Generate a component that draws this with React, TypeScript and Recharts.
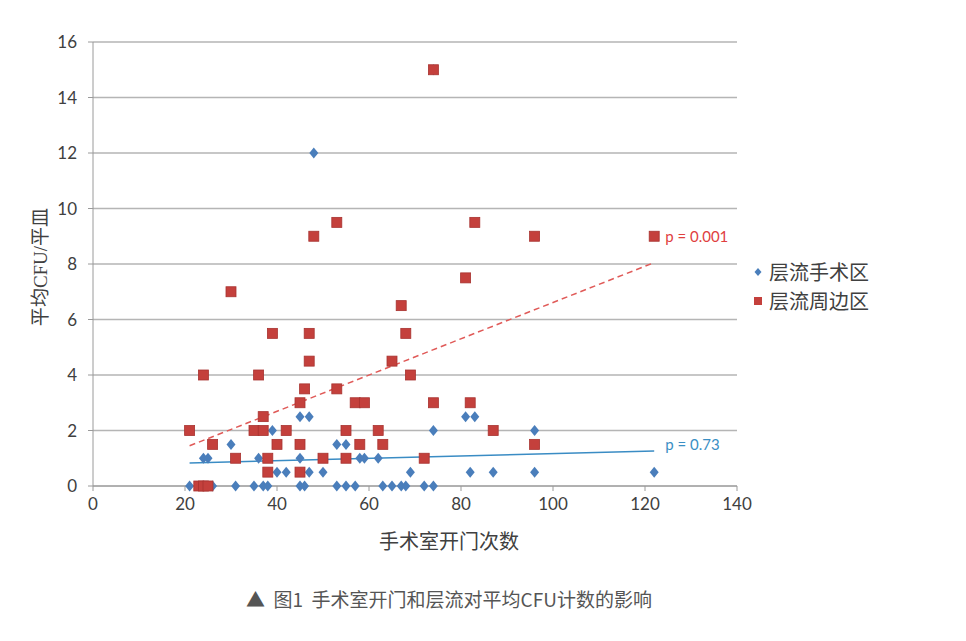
import React from 'react';
import {
  ScatterChart,
  Scatter,
  XAxis,
  YAxis,
  CartesianGrid,
  ReferenceLine,
  ReferenceDot,
  Label,
} from 'recharts';

// ---- data ----
const seriesNames = ['层流手术区', '层流周边区'];

// 层流手术区 (blue diamonds)
const surgicalX = [
  21, 26, 31, 35, 37, 38, 45, 46, 53, 55, 57, 63, 65, 67, 68, 72, 74,
  40, 42, 47, 50, 69, 82, 87, 96, 122,
  24, 25, 36, 45, 58, 59, 62,
  30, 53, 55,
  39, 74, 96,
  45, 47, 81, 83,
  48,
  74,
];
const surgicalY = [
  0, 0, 0, 0, 0, 0, 0, 0, 0, 0, 0, 0, 0, 0, 0, 0, 0,
  0.5, 0.5, 0.5, 0.5, 0.5, 0.5, 0.5, 0.5, 0.5,
  1, 1, 1, 1, 1, 1, 1,
  1.5, 1.5, 1.5,
  2, 2, 2,
  2.5, 2.5, 2.5, 2.5,
  12,
  15,
];

// 层流周边区 (red squares)
const peripheralX = [
  23, 24, 25,
  38, 45,
  31, 38, 50, 55, 72,
  26, 40, 45, 58, 63, 96,
  21, 35, 37, 42, 55, 62, 87,
  37,
  45, 57, 59, 74, 82,
  46, 53,
  24, 36, 69,
  47, 65,
  39, 47, 68,
  67,
  30,
  81,
  48, 96, 122,
  53, 83,
  74,
];
const peripheralY = [
  0, 0, 0,
  0.5, 0.5,
  1, 1, 1, 1, 1,
  1.5, 1.5, 1.5, 1.5, 1.5, 1.5,
  2, 2, 2, 2, 2, 2, 2,
  2.5,
  3, 3, 3, 3, 3,
  3.5, 3.5,
  4, 4, 4,
  4.5, 4.5,
  5.5, 5.5, 5.5,
  6.5,
  7,
  7.5,
  9, 9, 9,
  9.5, 9.5,
  15,
];

// trend lines (start / end)
const trendX = [21, 122];
const surgicalTrendY = [0.83, 1.26];
const peripheralTrendY = [1.45, 8.05];
const pLabels = ['p = 0.73', 'p = 0.001'];

const xTicks = [0, 20, 40, 60, 80, 100, 120, 140];
const yTicks = [0, 2, 4, 6, 8, 10, 12, 14, 16];

const xTitle = '手术室开门次数';
const yTitle = '平均CFU/平皿';
const caption = '▲  图1  手术室开门和层流对平均CFU计数的影响';

const surgicalData = surgicalX.map((x, i) => ({ x, y: surgicalY[i] }));
const peripheralData = peripheralX.map((x, i) => ({ x, y: peripheralY[i] }));

// ---- styles ----
const BLUE = '#4a7ebb';
const RED = '#c4403c';
const TICK_FONT = 'Lato, "Open Sans", sans-serif';
const CJK_FONT = '"Noto Sans CJK SC", sans-serif';

const Diamond = (props: any) => {
  const { cx, cy } = props;
  if (cx == null || cy == null) return null;
  return (
    <path
      d={`M${cx},${cy - 5.5}L${cx + 4.5},${cy}L${cx},${cy + 5.5}L${cx - 4.5},${cy}Z`}
      fill={BLUE}
    />
  );
};

const Square = (props: any) => {
  const { cx, cy } = props;
  if (cx == null || cy == null) return null;
  return (
    <rect x={cx - 5} y={cy - 5} width={10} height={10} fill={RED} stroke="#a83330" strokeWidth={0.8} />
  );
};

const LegendBox = () => (
  <div
    style={{
      position: 'absolute',
      left: 745,
      top: 249,
      fontFamily: CJK_FONT,
      fontSize: 20,
      color: '#404040',
      lineHeight: '29px',
    }}
  >
    <div style={{ display: 'flex', alignItems: 'center' }}>
      <svg width={10} height={10} style={{ marginRight: 6 }}>
        <path d="M5,1L8.5,5L5,9L1.5,5Z" fill={BLUE} />
      </svg>
      <span>{seriesNames[0]}</span>
    </div>
    <div style={{ display: 'flex', alignItems: 'center' }}>
      <svg width={10} height={10} style={{ marginRight: 6 }}>
        <rect x={1} y={1} width={8} height={8} fill={RED} />
      </svg>
      <span>{seriesNames[1]}</span>
    </div>
  </div>
);

const YTitle = (props: any) => {
  const vb = props.viewBox || { x: 25, y: 34, width: 60, height: 444 };
  const x = vb.x + 7;
  const y = vb.y + vb.height / 2 + 3;
  return (
    <text
      x={x}
      y={y}
      transform={`rotate(-90, ${x}, ${y})`}
      textAnchor="middle"
      dominantBaseline="central"
      fontFamily={'"Liberation Serif", "Noto Sans CJK SC", serif'}
      fontSize={19}
      fill="#404040"
    >
      {yTitle}
    </text>
  );
};

const XTitle = (props: any) => {
  const vb = props.viewBox || { x: 85, y: 478, width: 644, height: 30 };
  return (
    <g>
      <text
        x={vb.x + 356}
        y={vb.y + 54}
        textAnchor="middle"
        dominantBaseline="central"
        fontFamily={CJK_FONT}
        fontSize={20}
        fill="#404040"
      >
        {xTitle}
      </text>
      <text
        x={vb.x + 356}
        y={vb.y + 112}
        textAnchor="middle"
        dominantBaseline="central"
        fontFamily={CJK_FONT}
        fontSize={19}
        fill="#555555"
        style={{ whiteSpace: 'pre' }}
      >
        {caption}
      </text>
    </g>
  );
};

export default function App() {
  return (
    <div style={{ position: 'relative', width: 950, height: 625, background: '#fff' }}>
      <ScatterChart width={950} height={625} margin={{ top: 34, right: 221, bottom: 117, left: 25 }}>
        <CartesianGrid horizontal vertical={false} stroke="#b5b5b5" strokeWidth={1.5} />
        <XAxis
          type="number"
          dataKey="x"
          domain={[0, 140]}
          ticks={xTicks}
          height={30}
          stroke="#9a9a9a"
          tickSize={5}
          tickMargin={7}
          tick={{ fill: '#404040', fontSize: 17, fontFamily: TICK_FONT }}
          allowDataOverflow
        >
          <Label content={<XTitle />} />
        </XAxis>
        <YAxis
          type="number"
          dataKey="y"
          domain={[0, 16]}
          ticks={yTicks}
          width={60}
          stroke="#9a9a9a"
          tickSize={5}
          tickMargin={11}
          tick={{ fill: '#404040', fontSize: 17, fontFamily: TICK_FONT }}
        >
          <Label content={<YTitle />} />
        </YAxis>
        <Scatter
          name={seriesNames[0]}
          data={surgicalData}
          fill={BLUE}
          shape={<Diamond />}
          isAnimationActive={false}
        />
        <Scatter
          name={seriesNames[1]}
          data={peripheralData}
          fill={RED}
          shape={<Square />}
          isAnimationActive={false}
        />
        <ReferenceLine
          segment={[
            { x: trendX[0], y: surgicalTrendY[0] },
            { x: trendX[1], y: surgicalTrendY[1] },
          ]}
          stroke="#3a8cc4"
          strokeWidth={1.5}
        />
        <ReferenceLine
          segment={[
            { x: trendX[0], y: peripheralTrendY[0] },
            { x: trendX[1], y: peripheralTrendY[1] },
          ]}
          stroke="#e05a58"
          strokeWidth={1.5}
          strokeDasharray="6 4"
        />
        <ReferenceDot
          x={trendX[1]}
          y={1.5}
          r={0}
          fill="none"
          stroke="none"
          label={{ value: pLabels[0], position: 'right', offset: 11, fill: '#3a8fc4', fontSize: 15, fontFamily: TICK_FONT }}
        />
        <ReferenceDot
          x={trendX[1]}
          y={9}
          r={0}
          fill="none"
          stroke="none"
          label={{ value: pLabels[1], position: 'right', offset: 11, fill: '#e0403e', fontSize: 15, fontFamily: TICK_FONT }}
        />
      </ScatterChart>
      <LegendBox />
    </div>
  );
}
